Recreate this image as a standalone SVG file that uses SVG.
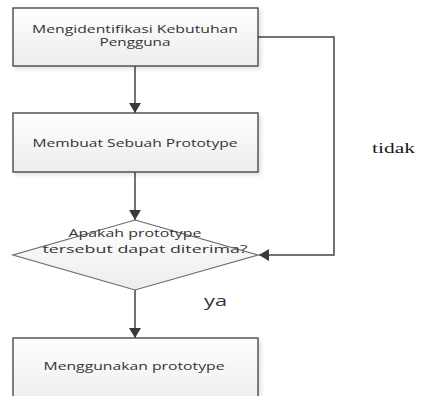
<svg xmlns="http://www.w3.org/2000/svg" width="445" height="396" viewBox="0 0 445 396">
<style>
.box{fill:url(#g);stroke:#4a4a4a;stroke-width:1.4}
.dia{fill:url(#g);stroke:#6a6a6a;stroke-width:1.2}
.t{font-family:"Open Sans","Liberation Sans",sans-serif;font-size:10px;fill:#333;text-anchor:middle}
.c{fill:none;stroke:#444;stroke-width:1.5}
.sh{fill:#000;opacity:0.12;filter:url(#b)}
.tidak{font-family:"Liberation Serif",serif;font-size:15px;fill:#1a1a1a}
.ya{font-family:"Open Sans","Liberation Sans",sans-serif;font-size:14px;fill:#333}
</style>
<defs>
<linearGradient id="g" x1="0" y1="0" x2="0" y2="1">
<stop offset="0" stop-color="#ffffff"/>
<stop offset="1" stop-color="#ececec"/>
</linearGradient>
<filter id="b" x="-10%" y="-10%" width="120%" height="130%"><feGaussianBlur stdDeviation="2"/></filter>
<marker id="a" viewBox="0 0 10 12" refX="10" refY="6" markerWidth="10" markerHeight="12" markerUnits="userSpaceOnUse" orient="auto">
<path d="M0,0 L10,6 L0,12 Z" fill="#3a3a3a"/>
</marker>
</defs>
<rect width="445" height="396" fill="#fff"/>
<g id="connectors">
<line class="c" x1="135" y1="66" x2="135" y2="113" marker-end="url(#a)"/>
<line class="c" x1="135" y1="172" x2="135" y2="220" marker-end="url(#a)"/>
<line class="c" x1="135" y1="290" x2="135" y2="338" marker-end="url(#a)"/>
<polyline class="c" points="258,37 334,37 334,255 259,255" marker-end="url(#a)"/>
</g>
<g id="n1">
<rect class="sh" x="15" y="10" width="246" height="59"/>
<rect class="box" x="13" y="8" width="245" height="58"/>
<text class="t" x="135" y="33" textLength="206" lengthAdjust="spacingAndGlyphs">Mengidentifikasi Kebutuhan</text>
<text class="t" x="135" y="46" textLength="71" lengthAdjust="spacingAndGlyphs">Pengguna</text>
</g>
<g id="n2">
<rect class="sh" x="15" y="115" width="246" height="60"/>
<rect class="box" x="13" y="113" width="245" height="59"/>
<text class="t" x="135" y="147" textLength="205" lengthAdjust="spacingAndGlyphs">Membuat Sebuah Prototype</text>
</g>
<g id="n3">
<polygon class="dia" points="135,220 258,255 135,290 13,255"/>
<text class="t" x="135" y="237" textLength="133" lengthAdjust="spacingAndGlyphs">Apakah prototype</text>
<text class="t" x="145" y="253" textLength="205" lengthAdjust="spacingAndGlyphs">tersebut dapat diterima?</text>
</g>
<g id="n4">
<rect class="sh" x="15" y="340" width="246" height="70"/>
<rect class="box" x="13" y="338" width="245" height="70"/>
<text class="t" x="134" y="370" textLength="181" lengthAdjust="spacingAndGlyphs">Menggunakan prototype</text>
</g>
<g id="labels">
<text class="tidak" x="372" y="153" textLength="43" lengthAdjust="spacingAndGlyphs">tidak</text>
<text class="ya" x="204" y="306" textLength="23" lengthAdjust="spacingAndGlyphs">ya</text>
</g>
</svg>
